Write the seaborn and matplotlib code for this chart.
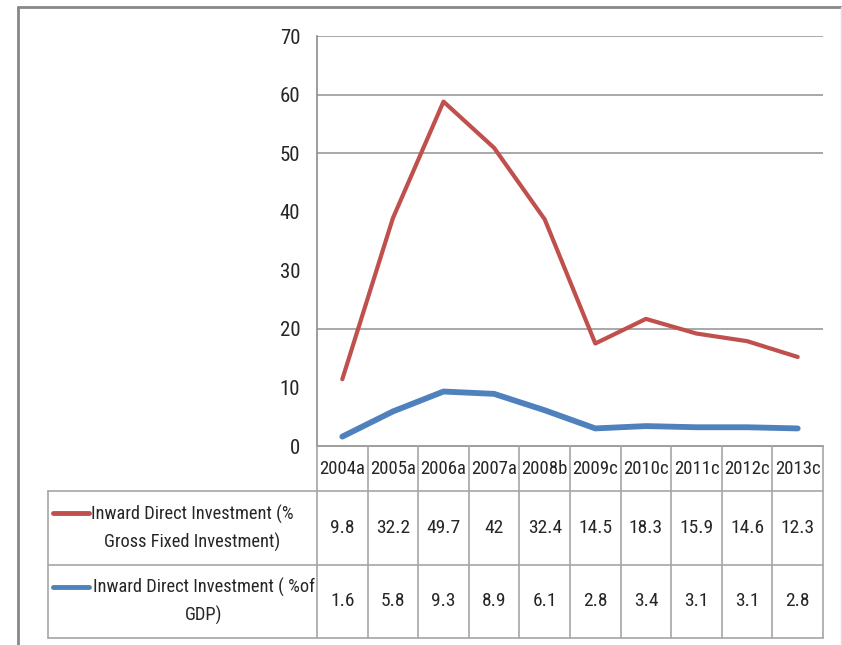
import numpy as np
import pandas as pd
import matplotlib
matplotlib.use("Agg")
import matplotlib.pyplot as plt
import seaborn as sns

sns.set_style("white")
plt.rcParams['font.family'] = ['Roboto Condensed', 'Liberation Sans Narrow', 'Liberation Sans', 'DejaVu Sans']

# data
years = ['2004a', '2005a', '2006a', '2007a', '2008b', '2009c', '2010c', '2011c', '2012c', '2013c']
gfi_line = [11.4, 38.9, 58.8, 50.9, 38.7, 17.5, 21.7, 19.2, 17.9, 15.2]
gdp_line = [1.6, 5.9, 9.3, 8.9, 6.1, 3.0, 3.4, 3.2, 3.2, 3.0]
gfi_table = ['9.8', '32.2', '49.7', '42', '32.4', '14.5', '18.3', '15.9', '14.6', '12.3']
gdp_table = ['1.6', '5.8', '9.3', '8.9', '6.1', '2.8', '3.4', '3.1', '3.1', '2.8']
gfi_label = 'Inward Direct Investment (%\nGross Fixed Investment)'
gdp_label = 'Inward Direct Investment ( %of\nGDP)'
y_ticks = [0, 10, 20, 30, 40, 50, 60, 70]
grid_at = [20, 50, 60, 70]

red = '#C0504D'
blue = '#4F81BD'
txt = '#262626'
lgray = '#A6A6A6'

W, H = 842, 645
fig = plt.figure(figsize=(W / 100, H / 100), dpi=100)

def px(x, y):
    # pixel -> figure fraction
    return x / W, 1 - y / H

x0, x1, ytop, ybot = 317, 823, 36, 446
ax = fig.add_axes([x0 / W, 1 - ybot / H, (x1 - x0) / W, (ybot - ytop) / H])

df = pd.DataFrame({'pos': np.arange(len(years)), 'gfi': gfi_line, 'gdp': gdp_line})
sns.lineplot(data=df, x='pos', y='gfi', ax=ax, color=red, lw=3.0)
sns.lineplot(data=df, x='pos', y='gdp', ax=ax, color=blue, lw=4.2)

ax.set_xlim(-0.5, len(years) - 0.5)
ax.set_ylim(0, 70)
ax.set_yticks(y_ticks)
ax.set_yticklabels([str(v) for v in y_ticks], fontsize=15, color=txt)
ax.set_xticks([])
ax.set_xlabel('')
ax.set_ylabel('')
ax.tick_params(axis='y', length=0, pad=12)
for v in grid_at:
    ax.axhline(v, color='#9A9A9A', lw=1.2, zorder=0)
for s in ['top', 'right']:
    ax.spines[s].set_visible(False)
ax.spines['left'].set_color('#8C8C8C')
ax.spines['bottom'].set_color('#8C8C8C')
ax.spines['left'].set_linewidth(1.2)
ax.spines['bottom'].set_linewidth(1.2)

# data table under the axis
cw = (x1 - x0) / len(years)
t_left, r1, r2, r3 = 48, 491, 565, 638

def hline(xa, xb, y, c=lgray, lw=1.2):
    fig.add_artist(plt.Line2D([xa / W, xb / W], [1 - y / H, 1 - y / H], color=c, lw=lw))

def vline(x, ya, yb, c=lgray, lw=1.2):
    fig.add_artist(plt.Line2D([x / W, x / W], [1 - ya / H, 1 - yb / H], color=c, lw=lw))

for i in range(len(years) + 1):
    vline(x0 + i * cw, ybot, r3)
vline(t_left, r1, r3)
for y in [r1, r2, r3]:
    hline(t_left, x1, y)

for i, yr in enumerate(years):
    cx = x0 + (i + 0.5) * cw
    fig.text(*px(cx, (ybot + r1) / 2 + 1), yr, ha='center', va='center', fontsize=13.5, color=txt)
    fig.text(*px(cx, (r1 + r2) / 2), gfi_table[i], ha='center', va='center', fontsize=14, color=txt)
    fig.text(*px(cx, (r2 + r3) / 2), gdp_table[i], ha='center', va='center', fontsize=14, color=txt)

# row headers with legend keys
for lab, col, ya, yb, tx in [(gfi_label, red, r1, r2, 192), (gdp_label, blue, r2, r3, 204)]:
    cy = (ya + yb) / 2
    fig.text(*px(tx, cy), lab, ha='center', va='center', fontsize=13.2, color=txt, linespacing=1.6)
    hline(53, 89, cy - 15, c=col, lw=3.5)

# outer chart frame
hline(18, W, 7, c='#888888', lw=2)
vline(18, 7, H, c='#888888', lw=2)
vline(W - 1, 7, H, c='#DDDDDD', lw=1)

fig.savefig('out.png', dpi=100)
